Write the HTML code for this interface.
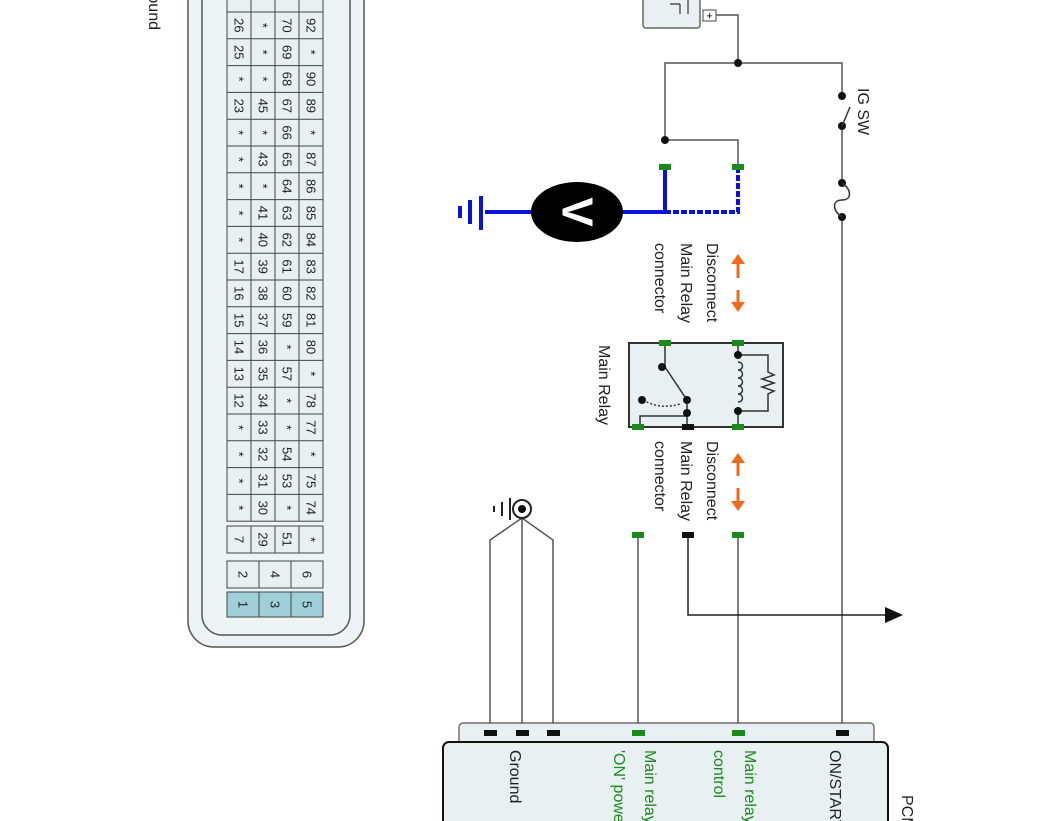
<!DOCTYPE html>
<html><head><meta charset="utf-8"><style>
html,body{margin:0;padding:0;background:#fff;}
svg{display:block;font-family:"Liberation Sans",sans-serif;}
.n{font-size:13px;fill:#222;}
.l{font-size:16px;}
</style></head><body>
<svg width="1062" height="821" viewBox="0 0 1062 821" xmlns="http://www.w3.org/2000/svg">
<rect x="188" y="-40" width="176" height="687" rx="26" fill="#eef3f5" stroke="#555" stroke-width="1.5"/>
<rect x="202" y="-40" width="148" height="675" rx="20" fill="#eef3f5" stroke="#555" stroke-width="1.5"/>
<g stroke="#444" stroke-width="1" fill="none">
<rect x="227" y="-20" width="96" height="541.2" fill="#e9f0f2"/>
<line x1="251" y1="-20" x2="251" y2="521"/><line x1="275" y1="-20" x2="275" y2="521"/><line x1="299" y1="-20" x2="299" y2="521"/>
<path d="M227 12H323M227 38.8H323M227 65.6H323M227 92.4H323M227 119.2H323M227 146H323M227 172.8H323M227 199.6H323M227 226.4H323M227 253.2H323M227 280H323M227 306.8H323M227 333.6H323M227 360.4H323M227 387.2H323M227 414H323M227 440.8H323M227 467.6H323M227 494.4H323"/>
<rect x="227" y="526" width="96" height="27" fill="#e9f0f2"/>
<line x1="251" y1="526" x2="251" y2="553"/><line x1="275" y1="526" x2="275" y2="553"/><line x1="299" y1="526" x2="299" y2="553"/>
<rect x="227" y="561" width="96" height="27" fill="#e9f0f2"/>
<line x1="259" y1="561" x2="259" y2="588"/><line x1="291" y1="561" x2="291" y2="588"/>
<rect x="227" y="592" width="96" height="25" fill="#9fcfd8"/>
<line x1="259" y1="592" x2="259" y2="617"/><line x1="291" y1="592" x2="291" y2="617"/>
</g>
<g class="n" text-anchor="middle" dominant-baseline="central">
<text transform="translate(239,25.4) rotate(90)">26</text><text transform="translate(263,25.4) rotate(90)">*</text><text transform="translate(287,25.4) rotate(90)">70</text><text transform="translate(311,25.4) rotate(90)">92</text>
<text transform="translate(239,52.2) rotate(90)">25</text><text transform="translate(263,52.2) rotate(90)">*</text><text transform="translate(287,52.2) rotate(90)">69</text><text transform="translate(311,52.2) rotate(90)">*</text>
<text transform="translate(239,79) rotate(90)">*</text><text transform="translate(263,79) rotate(90)">*</text><text transform="translate(287,79) rotate(90)">68</text><text transform="translate(311,79) rotate(90)">90</text>
<text transform="translate(239,105.8) rotate(90)">23</text><text transform="translate(263,105.8) rotate(90)">45</text><text transform="translate(287,105.8) rotate(90)">67</text><text transform="translate(311,105.8) rotate(90)">89</text>
<text transform="translate(239,132.6) rotate(90)">*</text><text transform="translate(263,132.6) rotate(90)">*</text><text transform="translate(287,132.6) rotate(90)">66</text><text transform="translate(311,132.6) rotate(90)">*</text>
<text transform="translate(239,159.4) rotate(90)">*</text><text transform="translate(263,159.4) rotate(90)">43</text><text transform="translate(287,159.4) rotate(90)">65</text><text transform="translate(311,159.4) rotate(90)">87</text>
<text transform="translate(239,186.2) rotate(90)">*</text><text transform="translate(263,186.2) rotate(90)">*</text><text transform="translate(287,186.2) rotate(90)">64</text><text transform="translate(311,186.2) rotate(90)">86</text>
<text transform="translate(239,213) rotate(90)">*</text><text transform="translate(263,213) rotate(90)">41</text><text transform="translate(287,213) rotate(90)">63</text><text transform="translate(311,213) rotate(90)">85</text>
<text transform="translate(239,239.8) rotate(90)">*</text><text transform="translate(263,239.8) rotate(90)">40</text><text transform="translate(287,239.8) rotate(90)">62</text><text transform="translate(311,239.8) rotate(90)">84</text>
<text transform="translate(239,266.6) rotate(90)">17</text><text transform="translate(263,266.6) rotate(90)">39</text><text transform="translate(287,266.6) rotate(90)">61</text><text transform="translate(311,266.6) rotate(90)">83</text>
<text transform="translate(239,293.4) rotate(90)">16</text><text transform="translate(263,293.4) rotate(90)">38</text><text transform="translate(287,293.4) rotate(90)">60</text><text transform="translate(311,293.4) rotate(90)">82</text>
<text transform="translate(239,320.2) rotate(90)">15</text><text transform="translate(263,320.2) rotate(90)">37</text><text transform="translate(287,320.2) rotate(90)">59</text><text transform="translate(311,320.2) rotate(90)">81</text>
<text transform="translate(239,347) rotate(90)">14</text><text transform="translate(263,347) rotate(90)">36</text><text transform="translate(287,347) rotate(90)">*</text><text transform="translate(311,347) rotate(90)">80</text>
<text transform="translate(239,373.8) rotate(90)">13</text><text transform="translate(263,373.8) rotate(90)">35</text><text transform="translate(287,373.8) rotate(90)">57</text><text transform="translate(311,373.8) rotate(90)">*</text>
<text transform="translate(239,400.6) rotate(90)">12</text><text transform="translate(263,400.6) rotate(90)">34</text><text transform="translate(287,400.6) rotate(90)">*</text><text transform="translate(311,400.6) rotate(90)">78</text>
<text transform="translate(239,427.4) rotate(90)">*</text><text transform="translate(263,427.4) rotate(90)">33</text><text transform="translate(287,427.4) rotate(90)">*</text><text transform="translate(311,427.4) rotate(90)">77</text>
<text transform="translate(239,454.2) rotate(90)">*</text><text transform="translate(263,454.2) rotate(90)">32</text><text transform="translate(287,454.2) rotate(90)">54</text><text transform="translate(311,454.2) rotate(90)">*</text>
<text transform="translate(239,481) rotate(90)">*</text><text transform="translate(263,481) rotate(90)">31</text><text transform="translate(287,481) rotate(90)">53</text><text transform="translate(311,481) rotate(90)">75</text>
<text transform="translate(239,507.8) rotate(90)">*</text><text transform="translate(263,507.8) rotate(90)">30</text><text transform="translate(287,507.8) rotate(90)">*</text><text transform="translate(311,507.8) rotate(90)">74</text>
<text transform="translate(239,539.5) rotate(90)">7</text><text transform="translate(263,539.5) rotate(90)">29</text><text transform="translate(287,539.5) rotate(90)">51</text><text transform="translate(311,539.5) rotate(90)">*</text>
<text transform="translate(243,574.5) rotate(90)">2</text><text transform="translate(275,574.5) rotate(90)">4</text><text transform="translate(307,574.5) rotate(90)">6</text>
<text transform="translate(243,604.5) rotate(90)">1</text><text transform="translate(275,604.5) rotate(90)">3</text><text transform="translate(307,604.5) rotate(90)">5</text>
</g>
<text class="l" transform="translate(149,30) rotate(90)" text-anchor="end" fill="#222">Ground</text>

<rect x="643" y="-10" width="57" height="38" rx="3" fill="#e9f0f2" stroke="#666" stroke-width="1.5"/>
<path d="M680 4V14M670 4H680M688 -4V14" stroke="#333" stroke-width="1.2" fill="none"/>
<rect x="703" y="10" width="13" height="11" fill="#fff" stroke="#444"/>
<text x="709.5" y="19.5" font-size="11" text-anchor="middle">+</text>

<g stroke="#555" stroke-width="1.5" fill="none">
<path d="M716 15H738V63"/>
<path d="M665 140V63H842V96"/>
<path d="M842 126V183"/>
<path d="M842 217V733"/>
<path d="M665 140H738V167"/>
<path d="M638 535V733M738 535V733"/>
<path d="M490 733V540L522 518L553 540V733M522 518V733"/>
</g>
<path d="M688 535V615H888" stroke="#222" stroke-width="1.5" fill="none"/>
<polygon points="885,607 903,615 885,623" fill="#111"/>
<circle cx="842" cy="96" r="4" fill="#111"/><circle cx="842" cy="126" r="4" fill="#111"/>
<path d="M842 126L850 107" stroke="#333" stroke-width="1.5"/>
<circle cx="842" cy="183" r="4" fill="#111"/><circle cx="842" cy="217" r="4" fill="#111"/>
<path d="M842 183C852 190 852 200 842 200C832 200 832 210 842 217" stroke="#333" stroke-width="1.5" fill="none"/>
<circle cx="738" cy="63" r="4" fill="#111"/><circle cx="665" cy="140" r="4" fill="#111"/>
<text class="l" transform="translate(858,88) rotate(90)" fill="#222">IG SW</text>

<path d="M665 170V212H623M531 212H485" stroke="#0a14d8" stroke-width="4" fill="none"/>
<path d="M665 212H738V170" stroke="#0a14d8" stroke-width="4" fill="none" stroke-dasharray="6,2"/>
<path d="M481 196V230M470 200V224M460 206V218" stroke="#0a14d8" stroke-width="4"/>
<ellipse cx="577" cy="212" rx="46" ry="30" fill="#000"/>
<text transform="translate(577,212) rotate(90)" text-anchor="middle" dominant-baseline="central" font-size="44" font-weight="bold" fill="#fff">V</text>

<g stroke="#f06a1a" stroke-width="3" fill="#f06a1a">
<path d="M738 262V278M738 290V304" fill="none"/>
<polygon points="731,264 738,254 745,264" stroke="none"/><polygon points="731,302 738,312 745,302" stroke="none"/>
<path d="M738 461V476M738 488V503" fill="none"/>
<polygon points="731,463 738,453 745,463" stroke="none"/><polygon points="731,501 738,511 745,501" stroke="none"/>
</g>
<g class="l" fill="#222">
<text transform="translate(707,243) rotate(90)">Disconnect</text>
<text transform="translate(681,243) rotate(90)">Main Relay</text>
<text transform="translate(655,243) rotate(90)">connector</text>
<text transform="translate(707,441) rotate(90)">Disconnect</text>
<text transform="translate(681,441) rotate(90)">Main Relay</text>
<text transform="translate(655,441) rotate(90)">connector</text>
<text transform="translate(599,345) rotate(90)">Main Relay</text>
</g>

<rect x="629" y="343" width="154" height="84" fill="#e9f0f2" stroke="#333" stroke-width="2"/>
<g stroke="#333" stroke-width="1.5" fill="none">
<path d="M665 343V367L687 400V427"/>
<path d="M640 427V416H687"/>
<path d="M643 400Q660 410 680 404" stroke-dasharray="2,2"/>
<path d="M738 343V355M738 411V427"/>
<path d="M738 362c6 0 6 8 0 8c6 0 6 8 0 8c6 0 6 8 0 8c6 0 6 8 0 8c6 0 6 8 0 8"/>
<path d="M738 355H768V372L774 375L762 379L774 383L762 387L774 391L768 394V411H738"/>
</g>
<g fill="#111">
<circle cx="738" cy="355" r="4"/><circle cx="738" cy="411" r="4"/>
<circle cx="662" cy="367" r="4"/><circle cx="687" cy="400" r="4"/><circle cx="687" cy="413" r="4"/><circle cx="642" cy="400" r="4"/>
</g>

<g fill="#1a8a1a">
<rect x="659" y="164" width="12" height="6"/><rect x="732" y="164" width="12" height="6"/>
<rect x="659" y="340" width="12" height="6"/><rect x="732" y="340" width="12" height="6"/>
<rect x="632" y="424" width="12" height="6"/><rect x="732" y="424" width="12" height="6"/>
<rect x="632" y="532" width="12" height="6"/><rect x="732" y="532" width="12" height="6"/>
</g>
<rect x="682" y="424" width="12" height="6" fill="#111"/>
<rect x="682" y="532" width="12" height="6" fill="#111"/>

<circle cx="522" cy="509" r="9" fill="#fff" stroke="#222" stroke-width="2"/>
<circle cx="522" cy="509" r="4" fill="#111"/>
<path d="M510 498V520M502 502V516M494 506V512" stroke="#222" stroke-width="2"/>

<rect x="459" y="723" width="415" height="30" rx="4" fill="#e9f0f2" stroke="#555" stroke-width="1.2"/>
<rect x="443" y="742" width="445" height="100" rx="6" fill="#e9f0f2" stroke="#111" stroke-width="2"/>
<g fill="#111">
<rect x="484" y="730" width="13" height="6"/><rect x="516" y="730" width="13" height="6"/><rect x="547" y="730" width="13" height="6"/><rect x="836" y="730" width="13" height="6"/>
</g>
<g fill="#1a8a1a"><rect x="632" y="730" width="13" height="6"/><rect x="732" y="730" width="13" height="6"/></g>
<g class="l">
<text transform="translate(510,750) rotate(90)" fill="#222">Ground</text>
<text transform="translate(645,750) rotate(90)" fill="#1a8a1a">Main relay</text>
<text transform="translate(614,750) rotate(90)" fill="#1a8a1a">'ON' power</text>
<text transform="translate(745,750) rotate(90)" fill="#1a8a1a">Main relay</text>
<text transform="translate(714,750) rotate(90)" fill="#1a8a1a">control</text>
<text transform="translate(830,750) rotate(90)" fill="#222">ON/START</text>
<text transform="translate(902,795) rotate(90)" fill="#222">PCM</text>
</g>
</svg>
</body></html>
